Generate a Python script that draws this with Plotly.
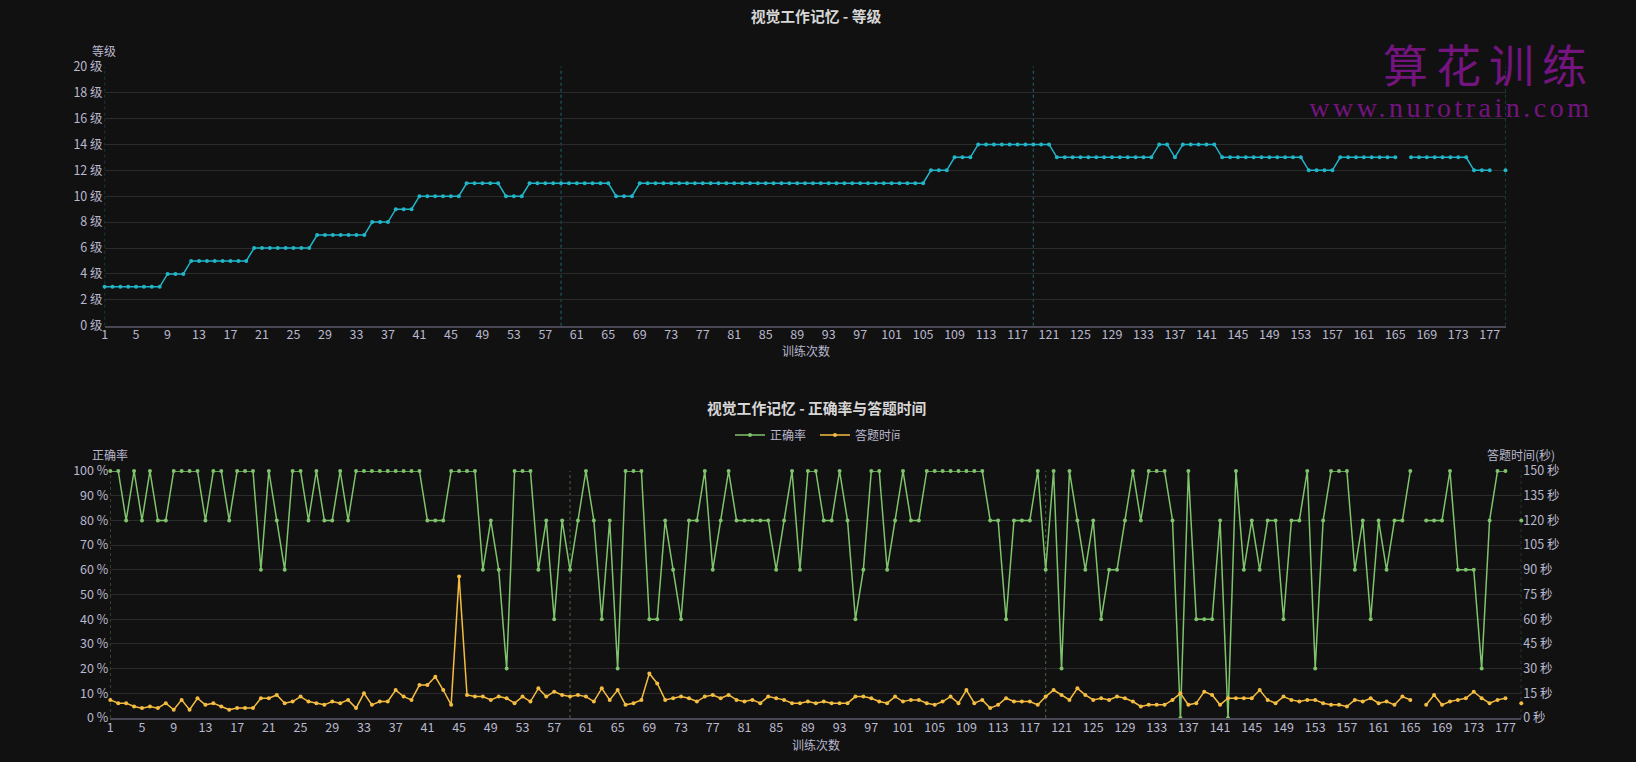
import plotly.graph_objects as go

W, H = 1636, 762
ML, MR, MT, MB = 90, 100, 40, 30

sessions = list(range(1, 180))
x_tick_vals = list(range(1, 178, 4))
mark_sessions = [1, 59, 119, 179]

level = [
    3, 3, 3, 3, 3, 3, 3, 3, 4, 4,
    4, 5, 5, 5, 5, 5, 5, 5, 5, 6,
    6, 6, 6, 6, 6, 6, 6, 7, 7, 7,
    7, 7, 7, 7, 8, 8, 8, 9, 9, 9,
    10, 10, 10, 10, 10, 10, 11, 11, 11, 11,
    11, 10, 10, 10, 11, 11, 11, 11, 11, 11,
    11, 11, 11, 11, 11, 10, 10, 10, 11, 11,
    11, 11, 11, 11, 11, 11, 11, 11, 11, 11,
    11, 11, 11, 11, 11, 11, 11, 11, 11, 11,
    11, 11, 11, 11, 11, 11, 11, 11, 11, 11,
    11, 11, 11, 11, 11, 12, 12, 12, 13, 13,
    13, 14, 14, 14, 14, 14, 14, 14, 14, 14,
    14, 13, 13, 13, 13, 13, 13, 13, 13, 13,
    13, 13, 13, 13, 14, 14, 13, 14, 14, 14,
    14, 14, 13, 13, 13, 13, 13, 13, 13, 13,
    13, 13, 13, 12, 12, 12, 12, 13, 13, 13,
    13, 13, 13, 13, 13, None, 13, 13, 13, 13,
    13, 13, 13, 13, 12, 12, 12, None, 12,
]

accuracy = [
    100, 100, 80, 100, 80, 100, 80, 80, 100, 100,
    100, 100, 80, 100, 100, 80, 100, 100, 100, 60,
    100, 80, 60, 100, 100, 80, 100, 80, 80, 100,
    80, 100, 100, 100, 100, 100, 100, 100, 100, 100,
    80, 80, 80, 100, 100, 100, 100, 60, 80, 60,
    20, 100, 100, 100, 60, 80, 40, 80, 60, 80,
    100, 80, 40, 80, 20, 100, 100, 100, 40, 40,
    80, 60, 40, 80, 80, 100, 60, 80, 100, 80,
    80, 80, 80, 80, 60, 80, 100, 60, 100, 100,
    80, 80, 100, 80, 40, 60, 100, 100, 60, 80,
    100, 80, 80, 100, 100, 100, 100, 100, 100, 100,
    100, 80, 80, 40, 80, 80, 80, 100, 60, 100,
    20, 100, 80, 60, 80, 40, 60, 60, 80, 100,
    80, 100, 100, 100, 80, 0, 100, 40, 40, 40,
    80, 0, 100, 60, 80, 60, 80, 80, 40, 80,
    80, 100, 20, 80, 100, 100, 100, 60, 80, 40,
    80, 60, 80, 80, 100, None, 80, 80, 80, 100,
    60, 60, 60, 20, 80, 100, 100, None, 80,
]

answer_time = [
    11, 9, 9, 7, 6, 7, 6, 9, 5, 11,
    5, 12, 8, 9, 7, 5, 6, 6, 6, 12,
    12, 14, 9, 10, 13, 10, 9, 8, 10, 9,
    11, 6, 15, 8, 10, 10, 17, 13, 11, 20,
    20, 25, 17, 8, 86, 14, 13, 13, 11, 13,
    12, 9, 13, 10, 18, 13, 16, 14, 13, 14,
    13, 10, 18, 11, 17, 8, 9, 11, 27, 21,
    11, 12, 13, 12, 10, 13, 14, 12, 14, 11,
    10, 11, 9, 13, 12, 11, 9, 9, 10, 9,
    10, 9, 9, 9, 13, 13, 12, 10, 9, 13,
    10, 11, 11, 9, 8, 10, 13, 9, 17, 9,
    11, 6, 8, 12, 10, 10, 10, 8, 13, 17,
    14, 11, 18, 14, 11, 12, 11, 13, 12, 10,
    7, 8, 8, 8, 11, 15, 8, 9, 16, 14,
    8, 12, 12, 12, 12, 17, 11, 9, 13, 11,
    10, 11, 11, 9, 8, 8, 7, 11, 10, 12,
    9, 10, 8, 13, 11, None, 8, 14, 8, 10,
    11, 12, 16, 12, 9, 11, 12, None, 9,
]

level_ticks = list(range(0, 21, 2))
acc_ticks = list(range(0, 101, 10))
time_ticks = list(range(0, 151, 15))
level_labels = [f"{v} 级" for v in level_ticks]
acc_labels = [f"{v} %" for v in acc_ticks]
time_labels = [f"{v} 秒" for v in time_ticks]

BG = "#111111"
GRID = "#2b2b2b"
AXIS = "#484753"
TICK = "#b9b8ce"
NAME = "#b9b8ce"
TITLE = "#d6d6d6"
TEAL = "#22b5c8"
GREEN = "#7fc36c"
YELLOW = "#f4bd41"
PURPLE = "#74147f"
FONT = "Noto Sans CJK SC"


def px(v):
    return (v - ML) / (W - ML - MR)


def py(v):
    return 1 - (v - MT) / (H - MT - MB)


fig = go.Figure()
fig.add_trace(go.Scatter(
    x=sessions, y=level, xaxis="x", yaxis="y", mode="lines+markers", name="等级",
    line=dict(color=TEAL, width=1.5), marker=dict(color=TEAL, size=4),
    connectgaps=False, showlegend=False, cliponaxis=False,
))
fig.add_trace(go.Scatter(
    x=sessions, y=accuracy, xaxis="x2", yaxis="y2", mode="lines+markers", name="正确率",
    line=dict(color=GREEN, width=1.5), marker=dict(color=GREEN, size=4),
    connectgaps=False, cliponaxis=False,
))
fig.add_trace(go.Scatter(
    x=sessions, y=answer_time, xaxis="x2", yaxis="y3", mode="lines+markers", name="答题时间",
    line=dict(color=YELLOW, width=1.5), marker=dict(color=YELLOW, size=4),
    connectgaps=False, cliponaxis=False,
))

shapes = []
for s in mark_sessions:
    shapes.append(dict(type="line", xref="x", yref="y domain", x0=s, x1=s,
                       y0=0, y1=1, layer="below",
                       line=dict(color="rgba(34,181,200,0.55)", width=1, dash="dot")))
    shapes.append(dict(type="line", xref="x2", yref="y2 domain", x0=s, x1=s,
                       y0=0, y1=1, layer="below",
                       line=dict(color="rgba(127,195,108,0.5)", width=1, dash="dot")))

xaxis_common = dict(
    range=[1, 179], tickmode="array", tickvals=x_tick_vals, showgrid=False, zeroline=False,
    showline=True, linecolor=AXIS, linewidth=1.5, ticks="", ticklabelstandoff=-3,
    tickfont=dict(color=TICK, size=12.5, family=FONT),
)
yaxis_common = dict(
    showgrid=True, gridcolor=GRID, gridwidth=1, zeroline=False, showline=False, ticks="",
    ticklabelstandoff=1, tickfont=dict(color=TICK, size=12.5, family=FONT),
)


def note(text, x, y, size=12, color=NAME, bold=False, **kw):
    return dict(text=f"<b>{text}</b>" if bold else text, xref="paper", yref="paper",
                x=px(x), y=py(y), xanchor="center", yanchor="middle", showarrow=False,
                font=dict(size=size, color=color, family=kw.pop("family", FONT)), **kw)


annotations = [
    note("视觉工作记忆 - 正确率与答题时间", 816, 407, size=14.8, color=TITLE, bold=True),
    note("等级", 104, 51),
    note("训练次数", 806, 351),
    note("正确率", 110, 454),
    note("答题时间(秒)", 1521, 454),
    note("训练次数", 816, 744),
    note("算花训练", 1489, 64, size=45, color=PURPLE),
    note("www.nurotrain.com", 1451, 107, size=28, color=PURPLE, family="Liberation Serif"),
]

fig.update_layout(
    width=W, height=H, autosize=False,
    paper_bgcolor=BG, plot_bgcolor=BG,
    margin=dict(l=ML, r=MR, t=MT, b=MB),
    font=dict(family=FONT, color=TICK, size=12),
    title=dict(text="<b>视觉工作记忆 - 等级</b>", x=816 / W, y=1 - 17 / H, xanchor="center", yanchor="middle",
               font=dict(size=14.8, color=TITLE, family=FONT)),
    xaxis=dict(domain=[px(104.6), px(1505.5)], anchor="y", **xaxis_common),
    yaxis=dict(domain=[py(325.7), py(66.7)], anchor="x", range=[0, 20], tickmode="array",
               tickvals=level_ticks, ticktext=level_labels, **yaxis_common),
    xaxis2=dict(domain=[px(110.3), px(1521.3)], anchor="y2", **xaxis_common),
    yaxis2=dict(domain=[py(718), py(471)], anchor="x2", range=[0, 100], tickmode="array",
                tickvals=acc_ticks, ticktext=acc_labels, **yaxis_common),
    yaxis3=dict(overlaying="y2", side="right", anchor="x2", range=[0, 150], tickmode="array",
                tickvals=time_ticks, ticktext=time_labels, showgrid=False, zeroline=False, showline=False,
                ticks="", ticklabelstandoff=1, tickfont=dict(color=TICK, size=12.5, family=FONT)),
    legend=dict(orientation="h", x=px(815), y=py(435), xanchor="center", yanchor="middle",
                bgcolor="rgba(0,0,0,0)", font=dict(size=12, color=TICK, family=FONT),
                itemwidth=30, entrywidth=40, entrywidthmode="pixels", traceorder="normal"),
    shapes=shapes,
    annotations=annotations,
)

post = """
document.documentElement.style.background='#111111';
document.body.style.margin='0';
document.body.style.background='#111111';
document.querySelectorAll('.annotation-text').forEach(function(t){
  if(t.textContent==='算花训练'){t.style.letterSpacing='8px';}
  if(t.textContent==='www.nurotrain.com'){t.style.letterSpacing='3.5px';}
});
"""
fig.write_html("out.html", post_script=post, config=dict(displayModeBar=False))
